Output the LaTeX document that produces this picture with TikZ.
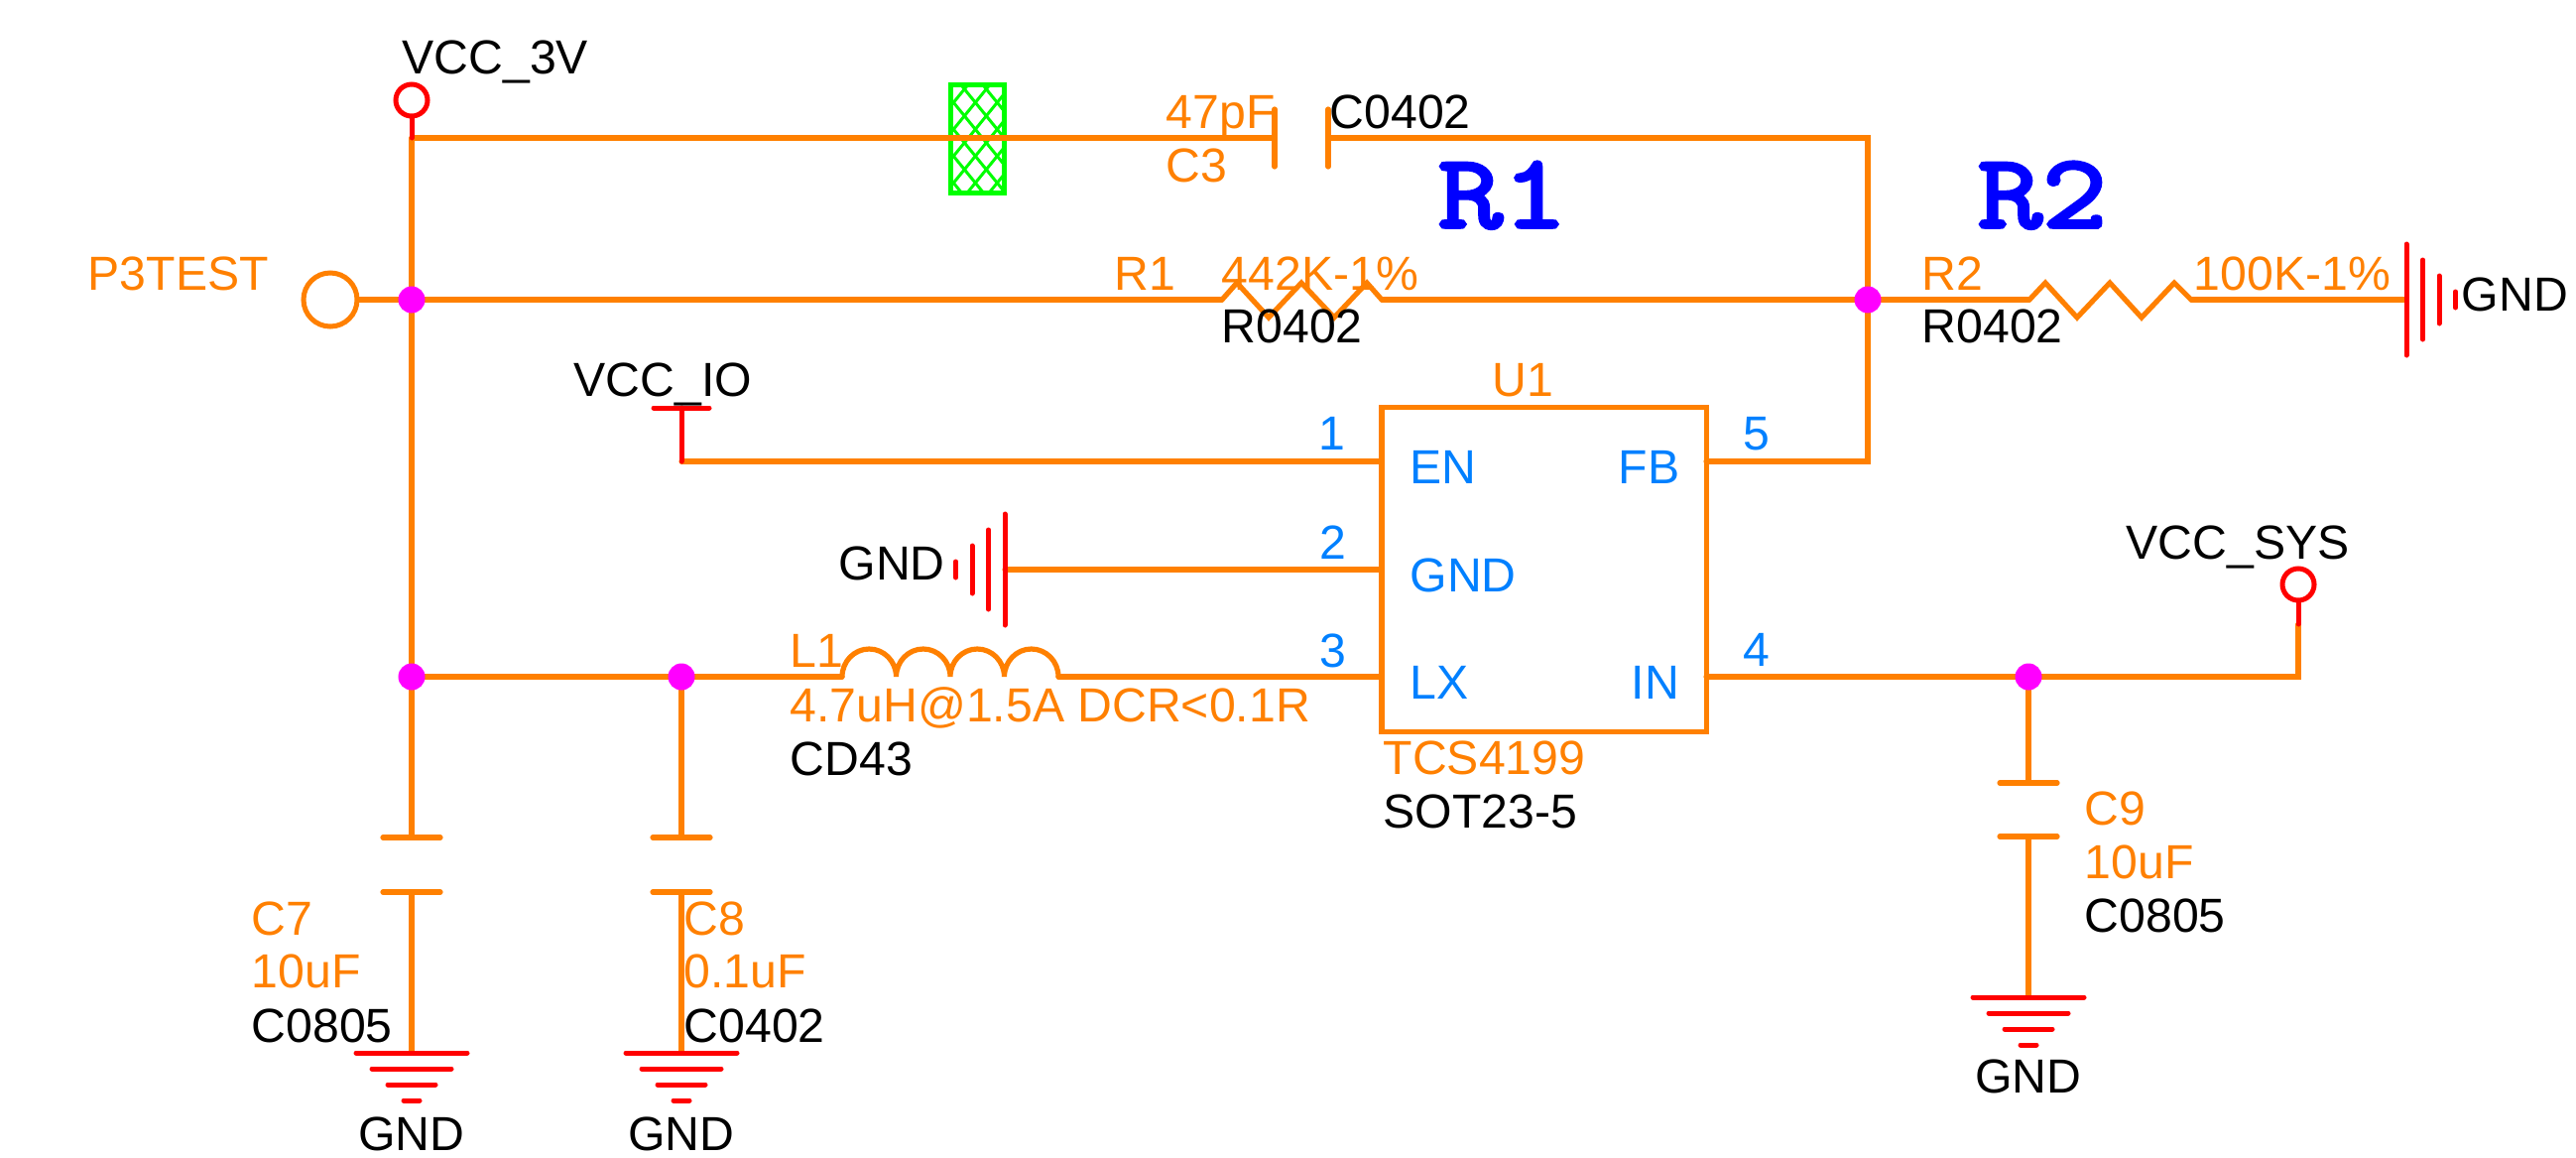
\documentclass[tikz,border=0pt]{standalone}
\usepackage{fontspec}
\setmainfont{Liberation Sans}
\newfontfamily\markfont[FakeBold=3.5,FakeStretch=1.2]{Latin Modern Mono}
\usetikzlibrary{positioning}
\tikzset{
  wire/.style={draw=schem, line width=0.052cm, line cap=round},
  rail/.style={draw=pure red, line width=0.05cm, line cap=round},
  refdes/.style={text=schem, anchor=base west, inner sep=0, font=\fontsize{13.7}{16}\selectfont},
  partname/.style={text=black, anchor=base west, inner sep=0, font=\fontsize{13.7}{16}\selectfont},
  pinname/.style={text=pinblue, anchor=base west, inner sep=0, font=\fontsize{13.7}{16}\selectfont},
  bigmark/.style={text=pure blue, anchor=base west, inner sep=0, font=\fontsize{30}{32}\markfont\selectfont},
  junction/.style={circle, fill=pure magenta, inner sep=0, minimum size=0.27cm},
  testpoint/.style={circle, draw=pure red, fill=white, line width=0.05cm, inner sep=0, minimum size=0.32cm},
}
\definecolor{schem}{RGB}{255,128,0}
\definecolor{pinblue}{RGB}{0,128,255}
\definecolor{beadgreen}{RGB}{0,255,0}
\definecolor{pure red}{RGB}{255,0,0}
\definecolor{pure blue}{RGB}{0,0,255}
\definecolor{pure magenta}{RGB}{255,0,255}
\def\GndDown#1#2{%
  \foreach \w[count=\i from 0] in {56,40,24,8}
    \draw[rail] (#1-\w,#2+16*\i) -- (#1+\w,#2+16*\i);
}
\def\CapDown#1#2#3{%
  \draw[wire] (#1-29,#2) -- (#1+29,#2);
  \draw[wire] (#1-29,#3) -- (#1+29,#3);
}
\begin{document}
\begin{tikzpicture}[x=0.01cm, y=-0.01cm]
    \useasboundingbox (0,0) rectangle (2597,1166);
    % Named wire corners
    \coordinate (top3v) at (415,139);
    \coordinate (c3a) at (1285,139);
    \coordinate (c3b) at (1339,139);
    \coordinate (topfb) at (1883,139);
    \coordinate (cornfb) at (1883,465);
    \coordinate (r1a) at (1232,302);
    \coordinate (r1b) at (1393,302);
    \coordinate (r2a) at (2046,302);
    \coordinate (r2b) at (2209,302);
    \coordinate (gndr2) at (2426,302);
    \coordinate (ioa) at (687,411);
    \coordinate (ioc) at (687,465);
    \coordinate (gndu1) at (1013,574);
    \coordinate (l1a) at (849,682);
    \coordinate (l1b) at (1067,682);
    \coordinate (sysa) at (2317,629);
    \coordinate (sysb) at (2317,682);
    \coordinate (pen) at (1393,465);
    \coordinate (pgnd) at (1393,574);
    \coordinate (plx) at (1393,682);
    \coordinate (pfb) at (1720,465);
    \coordinate (pin) at (1720,682);
    \coordinate (j3test) at (415,302);
    \coordinate (jfb) at (1883,302);
    \coordinate (jsw) at (415,682);
    \coordinate (jc8) at (687,682);
    \coordinate (jsys) at (2045,682);
    % Test point
    \node[testpoint, draw=schem, minimum size=0.54cm] (tptest) at (333,302) {};
    % Wires
    \draw[wire] (top3v) -- (j3test);
    \draw[wire] (c3b) -- (topfb) -- (jfb);
    \draw[wire] (tptest) -- (j3test);
    \draw[wire] (j3test) -- (r1a);
    \draw[wire] (r1b) -- (jfb);
    \draw[wire] (jfb) -- (r2a);
    \draw[wire] (r2b) -- (gndr2);
    \draw[wire] (jfb) -- (cornfb) -- (pfb);
    \draw[wire] (ioc) -- (pen);
    \draw[wire] (gndu1) -- (pgnd);
    \draw[wire] (j3test) -- (jsw);
    \draw[wire] (jsw) -- (jc8);
    \draw[wire] (jc8) -- (l1a);
    \draw[wire] (l1b) -- (plx);
    \draw[wire] (pin) -- (jsys);
    \draw[wire] (jsys) -- (sysb) -- (sysa);
    % U1
    \node[draw=schem, line width=0.052cm, minimum size=3.27cm, inner sep=0, outer sep=0] (u1) at (1556.5,574) {};
    % Capacitors
    \draw[wire] (1285,110) -- (1285,168);
    \draw[wire] (1339,110) -- (1339,168);
    \CapDown{415}{844}{899}
    \CapDown{687}{844}{899}
    \CapDown{2045}{789}{843}
    \coordinate (c7t) at (415,844);
    \coordinate (c7b) at (415,899);
    \coordinate (c8t) at (687,844);
    \coordinate (c8b) at (687,899);
    \coordinate (c9t) at (2045,789);
    \coordinate (c9b) at (2045,843);
    \coordinate (g7) at (415,1061);
    \coordinate (g8) at (687,1061);
    \coordinate (g9) at (2045,1005);
    \draw[wire] (jsw) -- (c7t);
    \draw[wire] (c7b) -- (g7);
    \draw[wire] (jc8) -- (c8t);
    \draw[wire] (c8b) -- (g8);
    \draw[wire] (jsys) -- (c9t);
    \draw[wire] (c9b) -- (g9);
    % Grounds
    \GndDown{415}{1061}
    \GndDown{687}{1061}
    \GndDown{2045}{1005}
    \foreach \w[count=\i from 0] in {56,40,24,8}{
      \draw[rail] (2426+16.5*\i,302-\w) -- (2426+16.5*\i,302+\w);
      \draw[rail] (1013-16.5*\i,574-\w) -- (1013-16.5*\i,574+\w);
    }
    % Resistors
    \draw[wire] (r1a) -- ++(15,-17) -- ++(32,35) -- ++(33,-35) -- ++(33,35) -- ++(33,-35) -- (r1b);
    \draw[wire] (r2a) -- ++(16,-17) -- ++(32,35) -- ++(33,-35) -- ++(32,35) -- ++(33,-35) -- (r2b);
    % Inductor
    \draw[wire] (l1a) arc[start angle=180, end angle=0, x radius=27.25, y radius=-28]
      arc[start angle=180, end angle=0, x radius=27.25, y radius=-28]
      arc[start angle=180, end angle=0, x radius=27.25, y radius=-28]
      arc[start angle=180, end angle=0, x radius=27.25, y radius=-28];
    % Ferrite bead
    \begin{scope}
      \clip (957,84) rectangle (1014,196);
      \foreach \c in {-5,...,5}{
        \draw[beadgreen, line width=0.03cm] (983.3+22*\c,103.3) ++(-110,-135) -- ++(220,270);
        \draw[beadgreen, line width=0.03cm] (983.3+22*\c,103.3) ++(110,-135) -- ++(-220,270);
      }
    \end{scope}
    \draw[beadgreen, line width=0.05cm] (958.5,85.5) rectangle (1012.5,194.5);
    \draw[wire] (top3v) -- (c3a);
    % Junctions
    \node[junction] (n3test) at (j3test) {};
    \node[junction] (nfb) at (jfb) {};
    \node[junction] (nsw) at (jsw) {};
    \node[junction] (nc8) at (jc8) {};
    \node[junction] (nsys) at (jsys) {};
    % Power flags
    \node[testpoint] (tp3v) at (415,101) {};
    \node[testpoint] (tpsys) at (2317,589) {};
    \draw[rail] (tp3v) -- (top3v);
    \draw[rail] (tpsys) -- (sysa);
    \draw[rail] (ioa) -- (ioc);
    \draw[rail] (ioa) ++(-28,0) -- ++(56,0);
    % Labels
    \node[partname] (l3v) at (405,74) {VCC\_3V};
    \node[refdes] (lp3) at (88,292) {P3TEST};
    \node[refdes] (lc3v) at (1175,129) {47pF};
    \node[refdes] (lc3) at (1175,183) {C3};
    \node[partname] (lc3p) at (1340,129) {C0402};
    \node[bigmark] (mr1) at (1449,229) {R1};
    \node[bigmark] (mr2) at (1993,229) {R2};
    \node[refdes] (lr1) at (1123,292) {R1};
    \node[refdes] (lr1v) at (1231,292) {442K-1\%};
    \node[partname] (lr1p) at (1231,345) {R0402};
    \node[refdes] (lr2) at (1937,292) {R2};
    \node[refdes] (lr2v) at (2211,292) {100K-1\%};
    \node[partname] (lr2p) at (1937,345) {R0402};
    \node[partname] (lg1) at (2481,313) {GND};
    \node[partname] (lio) at (578,399) {VCC\_IO};
    \node[partname] (lg2) at (845,584) {GND};
    \node[partname] (lsys) at (2143,563) {VCC\_SYS};
    \node[refdes] (lu1) at (1504,399) {U1};
    \node[refdes] (lu1v) at (1394,780) {TCS4199};
    \node[partname] (lu1p) at (1394,834) {SOT23-5};
    \node[refdes] (ll1) at (796,672) {L1};
    \node[refdes] (ll1v) at (796,727) {4.7uH@1.5A DCR<0.1R};
    \node[partname] (ll1p) at (796,781) {CD43};
    \node[refdes] (lc7) at (253,942) {C7};
    \node[refdes] (lc7v) at (253,995) {10uF};
    \node[partname] (lc7p) at (253,1050) {C0805};
    \node[refdes] (lc8) at (689,942) {C8};
    \node[refdes] (lc8v) at (689,995) {0.1uF};
    \node[partname] (lc8p) at (689,1050) {C0402};
    \node[refdes] (lc9) at (2101,831) {C9};
    \node[refdes] (lc9v) at (2101,885) {10uF};
    \node[partname] (lc9p) at (2101,939) {C0805};
    \node[partname, anchor=base] (lg7) at (415,1159) {GND};
    \node[partname, anchor=base] (lg8) at (687,1159) {GND};
    \node[partname, anchor=base] (lg9) at (2045,1101) {GND};
    % Pins
    \node[pinname] (n1) at (1329,453) {1};
    \node[pinname] (n2) at (1330,563) {2};
    \node[pinname] (n3) at (1330,672) {3};
    \node[pinname] (n4) at (1757,671) {4};
    \node[pinname] (n5) at (1757,453) {5};
    \node[pinname] (en) at (1421,487) {EN};
    \node[pinname] (gn) at (1421,596) {GND};
    \node[pinname] (lx) at (1421,704) {LX};
    \node[pinname] (fb) at (1631,487) {FB};
    \node[pinname] (in) at (1644,704) {IN};
\end{tikzpicture}
\end{document}
